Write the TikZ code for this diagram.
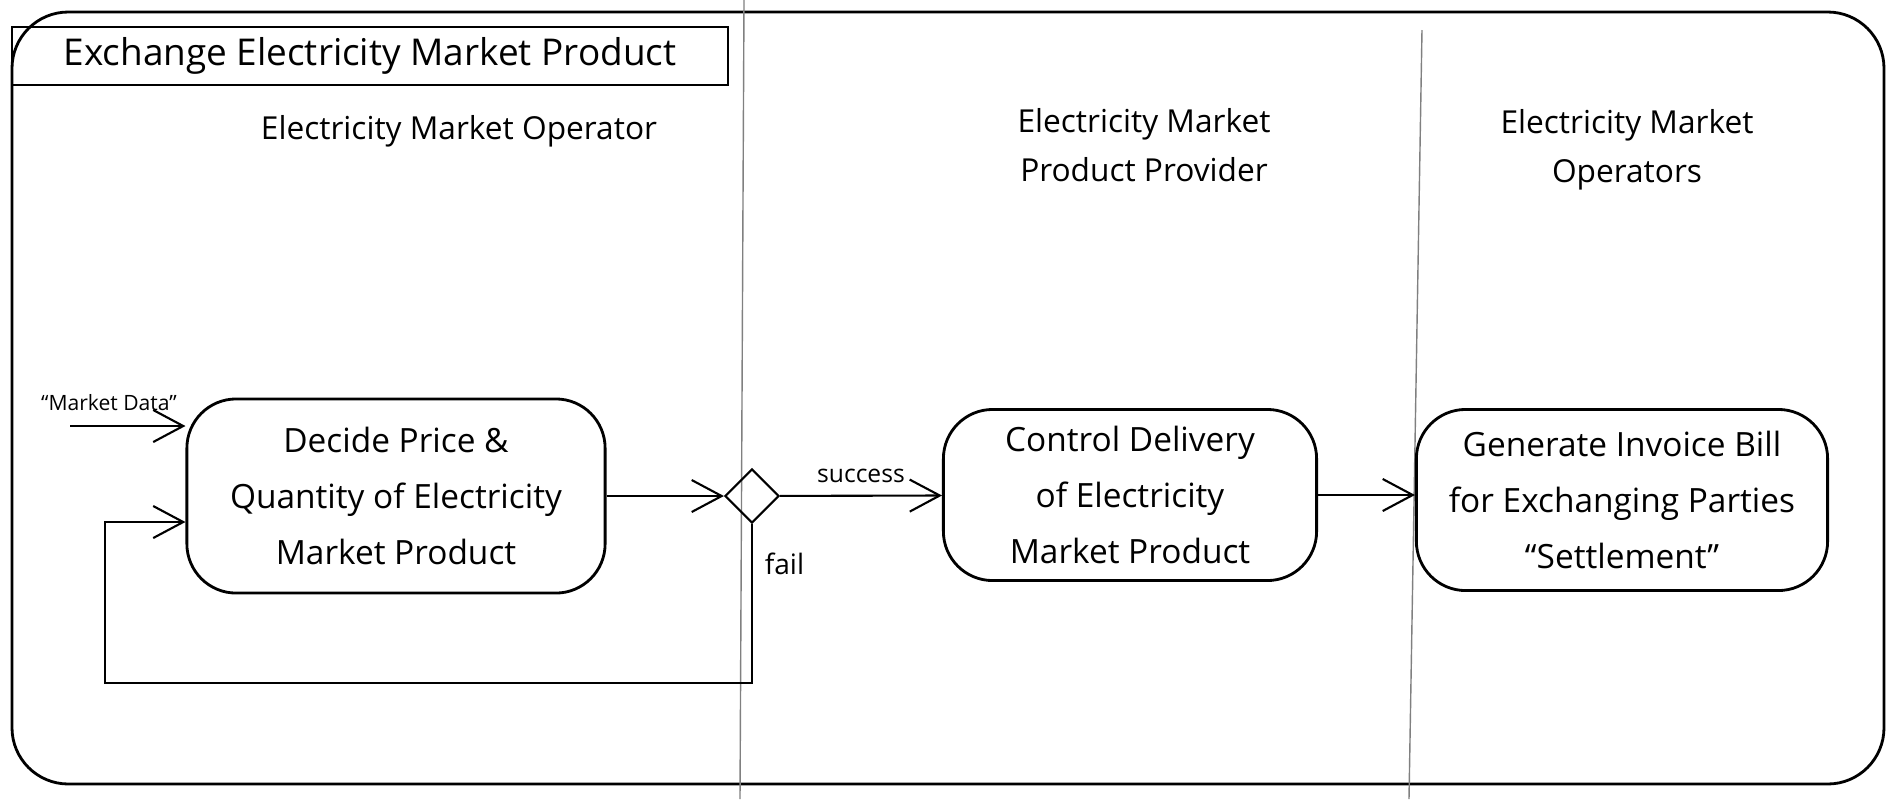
\documentclass[tikz,border=0pt]{standalone}
\usepackage{fontspec}
\setmainfont{Open Sans}
\usetikzlibrary{arrows.meta,positioning,shapes.geometric}

\tikzset{
  action/.style={draw, thick, rounded corners=14pt, align=center, inner sep=0pt, font=\fontsize{9.5}{16}\selectfont},
  flow/.style={draw, semithick, -{Straight Barb[length=3mm, width=3.2mm]}},
  lanehead/.style={align=center, font=\fontsize{9}{14}\selectfont},
}

\begin{document}
\begin{tikzpicture}[x=0.01cm, y=-0.01cm]
    \useasboundingbox(0,0)rectangle(1896,799);
    % frame
    \path[draw, thick, rounded corners=16pt](12,12)rectangle(1884,784);
    \path[draw, semithick](12,27)rectangle(728,85);
    \node[font=\fontsize{10.5}{12}\selectfont](title)at(370,56){Exchange Electricity Market Product};
    % lanes
    \path[draw, gray](744,0)to(740,799);
    \path[draw, gray](1422,30)to(1409,799);
    \node[lanehead](operator)at(459,131){Electricity Market Operator};
    \node[lanehead](provider)at(1144,145){Electricity Market\\Product Provider};
    \node[lanehead](operators)at(1627,150){Electricity Market\\Operators};
    % actions
    \node[action, minimum width=4.18cm, minimum height=1.94cm](decide)at(396,496){Decide Price \&\\Quantity of Electricity\\Market Product};
    \node[draw, semithick, diamond, minimum size=0.54cm, inner sep=0pt](dec)at(752,496){};
    \node[action, minimum width=3.73cm, minimum height=1.71cm](control)at(1130,495){Control Delivery\\of Electricity\\Market Product};
    \node[action, minimum width=4.11cm, minimum height=1.81cm](invoice)at(1622,500){Generate Invoice Bill\\for Exchanging Parties\\``Settlement''};
    % flows
    \coordinate(mdin)at(70,426);
    \node[font=\fontsize{6}{8}\selectfont](mdlabel)at(109,403){``Market Data''};
    \path[flow](mdin)to(mdin -| decide.west);
    \path[flow](decide)to(dec);
    \path[flow](dec)to node[above, font=\fontsize{7}{9}\selectfont]{success}(control);
    \path[flow](control.east)to(control.east -| invoice.west);
    \coordinate(loopL)at(105,683);
    \coordinate(loopR)at(dec |- loopL);
    \path[flow](dec.south)to node[pos=0.25, right, font=\fontsize{8}{10}\selectfont]{fail}(loopR)to(loopL)|-([yshift=-0.26cm]decide.west);
\end{tikzpicture}
\end{document}
